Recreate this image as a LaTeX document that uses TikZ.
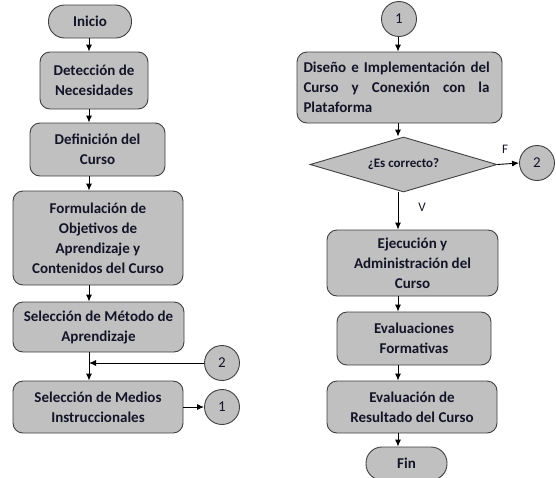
\documentclass[tikz,border=0pt]{standalone}
\usepackage{fontspec}
\setmainfont{Carlito}
\usetikzlibrary{shapes.geometric,arrows.meta}

\begin{document}
\begin{tikzpicture}[x=1pt, y=-1pt,
        every node/.style={text=txt, font=\bfseries\fontsize{15}{20}\selectfont, align=center, inner sep=2pt},
        proc/.style={draw=edge, fill=boxfill, rounded corners=10pt, line width=0.9pt},
        term/.style={draw=edge, fill=boxfill, rounded corners=16pt, line width=0.9pt, minimum height=33pt},
        conn/.style={draw=edge, fill=boxfill, circle, line width=0.9pt, minimum size=35pt, inner sep=0pt, font=\fontsize{15}{20}\selectfont},
        dec/.style={draw=edge, fill=boxfill, diamond, aspect=3.4, line width=0.9pt, inner sep=0pt, minimum width=187pt, minimum height=55pt},
        flow/.style={-{Latex[length=7pt,width=6pt]}, line width=0.9pt, draw=black}]
        % Define standard colors
        \definecolor{boxfill}{RGB}{192, 192, 192} % Gray boxes
        \definecolor{edge}{RGB}{64, 64, 64}       % Dark border
        \definecolor{txt}{RGB}{20, 20, 40}        % Dark text

        \useasboundingbox (0,0) rectangle (556,477);

        % --- LEFT: first half of the process ---
        \coordinate (colL) at (89,0);
        \node[term, minimum width=83pt] (ini) at (90,21.5) {Inicio};
        \node[proc, minimum width=108pt, minimum height=57pt] (det) at (94,80.5) {Detección de\\Necesidades};
        \node[proc, minimum width=135pt, minimum height=53pt] (def) at (97.5,149.5) {Definición del\\Curso};
        \node[proc, minimum width=170pt, minimum height=94pt] (form) at (98,238) {Formulación de\\Objetivos de\\Aprendizaje y\\Contenidos del Curso};
        \node[proc, minimum width=171pt, minimum height=50pt] (met) at (98.5,327) {Selección de Método de\\Aprendizaje};
        \node[proc, minimum width=170pt, minimum height=52pt] (med) at (98,407) {Selección de Medios\\Instruccionales};

        % Connectors (left)
        \node[conn] (retB) at (222,363) {2};
        \node[conn] (outA) at (222,407) {1};
        \coordinate (join) at (89,363);

        % Arrows (left)
        \draw[flow] (ini.south -| colL) -- (det.north -| colL);
        \draw[flow] (det.south -| colL) -- (def.north -| colL);
        \draw[flow] (def.south -| colL) -- (form.north -| colL);
        \draw[flow] (form.south -| colL) -- (met.north -| colL);
        \draw[flow] (met.south -| colL) -- (med.north -| colL);
        \draw[flow] (retB.west) -- (join);
        \draw[flow] (med.east) -- (outA.west);

        % --- RIGHT: second half of the process ---
        \coordinate (colR) at (398,0);
        \node[conn] (inA) at (399,19) {1};
        \node[proc, minimum width=205pt, minimum height=71pt, text width=192pt, align=left] (dis) at (399.5,87.5)
            {\makebox[186pt][s]{Diseño e Implementación del}\\\makebox[186pt][s]{Curso\hfill y\hfill Conexión\hfill con\hfill la}\\Plataforma};
        \node[dec, font=\bfseries\fontsize{13}{16}\selectfont] (chk) at (403.5,164.5) {¿Es correcto?};
        \node[conn] (inB) at (537,163) {2};
        \node[proc, minimum width=171pt, minimum height=66pt] (eje) at (412.5,263) {Ejecución y\\Administración del\\Curso};
        \node[proc, minimum width=154pt, minimum height=53pt] (evf) at (414,338.5) {Evaluaciones\\Formativas};
        \node[proc, minimum width=170pt, minimum height=52pt] (evr) at (412,407) {Evaluación de\\Resultado del Curso};
        \node[term, minimum width=81pt] (fin) at (406.5,463.5) {Fin};

        % Arrows (right)
        \draw[flow] (inA.south -| colR) -- (dis.north -| colR);
        \draw[flow] (dis.south -| colR) -- (chk.north -| colR);
        \draw[flow] (chk.east) -- node[above=8pt, pos=0.35, font=\fontsize{13}{16}\selectfont] (lblF) {F} (inB.west);
        \draw[flow] (chk.south -| colR) -- node[right=18pt, pos=0.4, font=\fontsize{13}{16}\selectfont] (lblV) {V} (eje.north -| colR);
        \draw[flow] (eje.south -| colR) -- (evf.north -| colR);
        \draw[flow] (evf.south -| colR) -- (evr.north -| colR);
        \draw[flow] (evr.south -| colR) -- (fin.north -| colR);
    \end{tikzpicture}
\end{document}
